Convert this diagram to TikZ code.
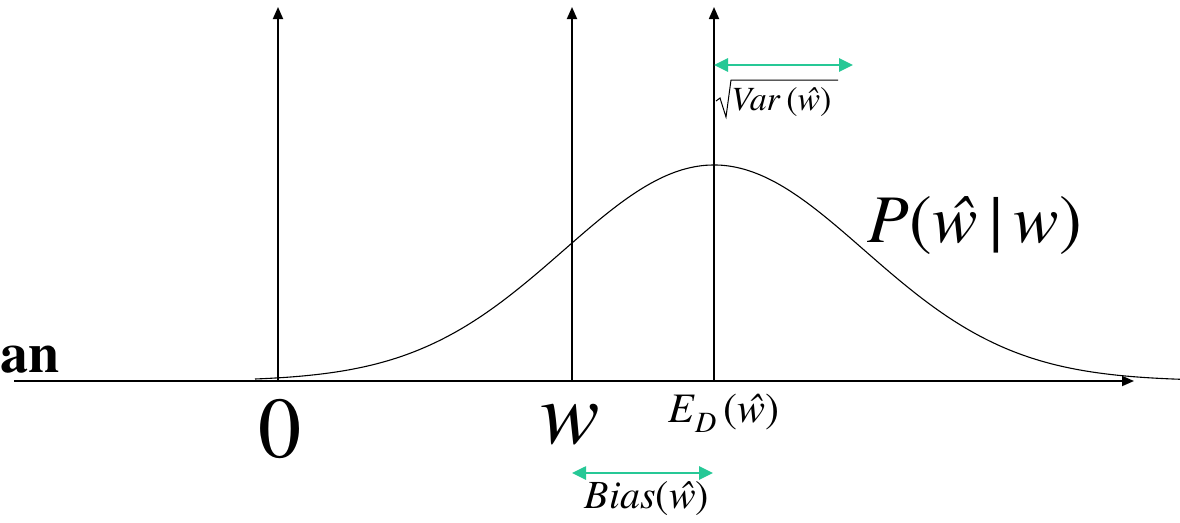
\documentclass[tikz,border=0pt]{standalone}
\usepackage{fontspec}
\usepackage{graphicx}
\setmainfont{texgyretermes}[Extension=.otf, UprightFont=*-regular, ItalicFont=*-italic, BoldFont=*-bold, BoldItalicFont=*-bolditalic]
\usetikzlibrary{arrows.meta}
\definecolor{grn}{RGB}{38,200,150}
\newcommand{\szd}[2]{\scalebox{#1}{\fontsize{30}{34}\selectfont #2}}
\tikzset{
  axisarrow/.style={line width=1.8pt,-{Triangle[length=12pt,width=10pt]}},
  grnarrow/.style={draw=grn,line width=2.6pt,{Triangle[length=14pt,width=13pt]}-{Triangle[length=14pt,width=13pt]}},
  lbl/.style={inner sep=0pt,anchor=base},
}
\begin{document}
\begin{tikzpicture}[x=1pt,y=-1pt]
\useasboundingbox (0,0) rectangle (1180,522);
% axis
\coordinate (xl) at (14,381);
\coordinate (xr) at (1134,381);
\draw[axisarrow] (xl) -- (xr);
% vertical arrows
\coordinate (b0) at (278,381); \coordinate (t0) at (278,7);
\coordinate (bw) at (572,381); \coordinate (tw) at (572,7);
\coordinate (be) at (714,381); \coordinate (te) at (714,7);
\draw[axisarrow] (b0) -- (t0);
\draw[axisarrow] (bw) -- (tw);
\draw[axisarrow] (be) -- (te);
% curve
\draw[line width=1.1pt,smooth] plot[domain=-3.06:3.107,samples=120]
  ({714+150*\x},{381-216*exp(-0.5*\x*\x)});
% green arrows
\coordinate (va) at (714,65); \coordinate (vb) at (853,65);
\draw[grnarrow] (va) -- (vb);
\coordinate (ba) at (572,473); \coordinate (bb) at (713,473);
\draw[grnarrow] (ba) -- (bb);
% labels
\node[lbl,anchor=base west] (an) at (0,372) {\szd{1.87}{\bfseries an}};
\node[lbl] (zero) at (280,457) {\szd{2.87}{0}};
\node[lbl] (wl) at (570,443) {\szd{2.97}{\itshape w}};
\node[lbl] (ed) at (724,422) {\szd{1.4}{\textit{E}\raisebox{-0.25em}{\fontsize{21}{22}\selectfont\textit{D}}\,(\textit{\^w})}};
\node[lbl] (pl) at (975,242) {\szd{2.27}{\textit{P}(\textit{\^w}\,|\,\textit{w})}};
\node[lbl,anchor=base west] (var) at (731,110) {\szd{1.13}{\textit{Var}\,(\textit{\^w})}};
\draw[line width=1pt] (716,101) -- (720,98) -- (726,117) -- (731,80) -- (838,80);
\node[lbl] (bias) at (647,508) {\szd{1.33}{\textit{Bias}(\textit{\^w})}};
\end{tikzpicture}
\end{document}
